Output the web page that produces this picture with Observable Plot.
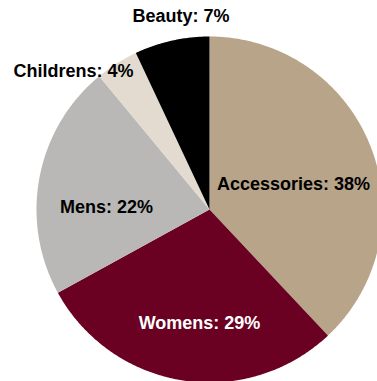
<!DOCTYPE html>
<html>
<head>
<meta charset="utf-8">
<script src="https://cdn.jsdelivr.net/npm/d3@7"></script>
<script src="https://cdn.jsdelivr.net/npm/@observablehq/plot@0.6"></script>
<style>
  html, body { margin: 0; padding: 0; background: #fff; }
  #chart svg { display: block; }
</style>
</head>
<body>
<div id="chart"></div>
<script>
// Data
const categories = ["Accessories", "Womens", "Mens", "Childrens", "Beauty"];
const values = [38, 29, 22, 4, 7];
const colors = ["#b8a488", "#6a0022", "#b9b8b6", "#e3dbd0", "#000000"];
const labelColors = ["#000", "#fff", "#000", "#000", "#000"];

// Layout (pixel offsets of label baselines from pie centre)
const W = 377, H = 381;
const cx = 209, cy = 209, R = 173;
const labelOffsets = [[84, -20], [-10, 119.7], [-103, 3.7], [-136, -132.3], [-28.5, -188]];

const pie = d3.pie().sort(null).value(d => d.value)
  .startAngle(0).endAngle(2 * Math.PI);
const rows = categories.map((c, i) => ({category: c, value: values[i], i}));
const arcs = pie(rows);

const poly = [];
for (const a of arcs) {
  poly.push({category: a.data.category, x: 0, y: 0});
  const n = Math.max(2, Math.ceil((a.endAngle - a.startAngle) / (Math.PI / 360)));
  for (let k = 0; k <= n; k++) {
    const t = a.startAngle + (a.endAngle - a.startAngle) * k / n;
    poly.push({category: a.data.category, x: R * Math.sin(t), y: -R * Math.cos(t)});
  }
}

const labels = rows.map((r, i) => ({
  text: `${r.category}: ${r.value}%`,
  x: labelOffsets[i][0], y: labelOffsets[i][1], color: labelColors[i]
}));

const plot = Plot.plot({
  width: W, height: H,
  margin: 0,
  x: {domain: [-cx, W - cx], range: [0, W], axis: null},
  y: {domain: [-cy, H - cy], range: [0, H], axis: null},
  color: {domain: categories, range: colors},
  style: {background: "#fff", fontFamily: "'Liberation Sans', Arial, sans-serif"},
  marks: [
    Plot.line(poly, {x: "x", y: "y", z: "category", fill: "category", stroke: null, curve: "linear-closed"}),
    Plot.text(labels, {
      x: "x", y: "y", text: "text", fill: d => d.color,
      fontSize: 18, fontWeight: "bold", textAnchor: "middle", lineAnchor: "bottom"
    })
  ]
});
document.getElementById("chart").appendChild(plot);
</script>
</body>
</html>
